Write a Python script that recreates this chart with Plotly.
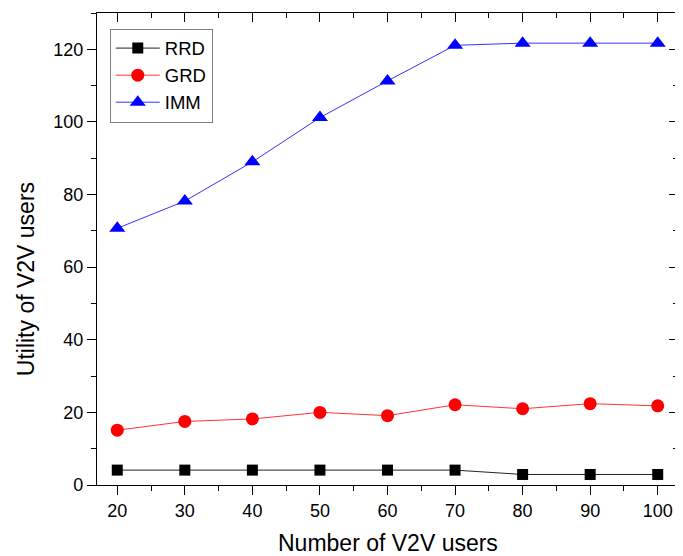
import plotly.graph_objects as go

users = [20, 30, 40, 50, 60, 70, 80, 90, 100]
rrd = [4.1, 4.1, 4.1, 4.1, 4.1, 4.1, 2.9, 2.9, 2.9]
grd = [15.1, 17.5, 18.2, 20.0, 19.1, 22.1, 21.0, 22.4, 21.8]
imm = [70.7, 78.2, 89.0, 101.2, 111.3, 121.1, 121.7, 121.7, 121.7]
y_ticks = [0, 20, 40, 60, 80, 100, 120]

font_family = "Liberation Sans, Arial, sans-serif"

fig = go.Figure()
fig.add_trace(go.Scatter(x=users, y=rrd, name="RRD", mode="lines+markers",
                         line=dict(color="#222222", width=1),
                         marker=dict(symbol="square", size=11, color="black")))
fig.add_trace(go.Scatter(x=users, y=grd, name="GRD", mode="lines+markers",
                         line=dict(color="#ff3333", width=1),
                         marker=dict(symbol="circle", size=13, color="red")))
fig.add_trace(go.Scatter(x=users, y=imm, name="IMM", mode="lines+markers",
                         line=dict(color="#3333ff", width=1),
                         marker=dict(symbol="triangle-up", size=14, color="blue")))
# empty trace so that the mirrored top/right axes are drawn
fig.add_trace(go.Scatter(x=[None], y=[None], xaxis="x2", yaxis="y2",
                         showlegend=False, hoverinfo="skip", mode="markers"))

axis_common = dict(showgrid=False, zeroline=False, showline=True, linecolor="black",
                   linewidth=1.3, tickcolor="black", tickwidth=1.3, automargin=False)

# the page body has an 8px margin, so the figure is sized to fit inside the window
fig.update_layout(
    width=675, height=548,
    margin=dict(l=89, r=5, t=5, b=71),
    paper_bgcolor="white", plot_bgcolor="white",
    font=dict(family=font_family, size=18, color="black"),
    showlegend=True,
    legend=dict(x=0.022, y=0.967, xanchor="left", yanchor="top",
                bordercolor="#808080", borderwidth=1, bgcolor="white",
                font=dict(size=18.5), tracegroupgap=0, itemwidth=44),
    xaxis=dict(range=[17, 103], tickvals=users, ticks="outside", ticklen=9,
               minor=dict(ticks="outside", ticklen=5, dtick=5, tick0=15, tickcolor="black", tickwidth=1.3),
               **axis_common),
    yaxis=dict(range=[0, 130], tickvals=y_ticks, ticks="outside", ticklen=9,
               minor=dict(ticks="outside", ticklen=5, dtick=10, tick0=0, tickcolor="black", tickwidth=1.3),
               **axis_common),
    xaxis2=dict(range=[17, 103], overlaying="x", side="top", anchor="y", tickvals=users, ticks="inside",
                ticklen=9, showticklabels=False,
                minor=dict(ticks="inside", ticklen=5, dtick=5, tick0=15, tickcolor="black", tickwidth=1.3),
                **axis_common),
    yaxis2=dict(range=[0, 130], overlaying="y", side="right", anchor="x", tickvals=y_ticks,
                ticks="inside", ticklen=9, showticklabels=False,
                minor=dict(ticks="inside", ticklen=5, dtick=10, tick0=0, tickcolor="black", tickwidth=1.3),
                **axis_common),
    annotations=[
        dict(text="Number of V2V users", xref="paper", yref="paper", x=0.5, y=-0.123,
             xanchor="center", yanchor="middle", showarrow=False, font=dict(size=23)),
        dict(text="Utility of V2V users", xref="paper", yref="paper", x=-0.123, y=0.435,
             xanchor="center", yanchor="middle", showarrow=False, textangle=-90, font=dict(size=23)),
    ],
)

fig.write_html("out.html")
